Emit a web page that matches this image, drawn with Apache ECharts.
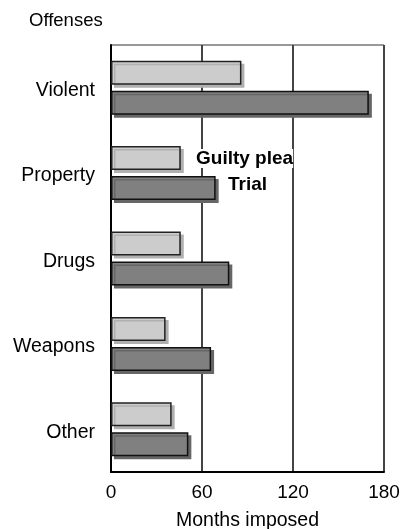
<!DOCTYPE html>
<html>
<head>
<meta charset="utf-8">
<script src="https://cdn.jsdelivr.net/npm/echarts@6/dist/echarts.min.js"></script>
<style>
    html, body { margin: 0; padding: 0; background: #fff; }
    #chart { width: 406px; height: 529px; }
</style>
</head>
<body>
<div id="chart"></div>
<script>
const offenses = ["Violent", "Property", "Drugs", "Weapons", "Other"];
const guiltyPlea = [86, 46, 46, 36, 40];
const trial = [170, 69, 78, 66, 51];
const xTicks = [0, 60, 120, 180];

const chart = echarts.init(document.getElementById("chart"));
const font = "Liberation Sans, Arial, sans-serif";

chart.setOption({
    animation: false,
    grid: {
        left: 111, right: 22, top: 45, bottom: 57,
        outerBoundsMode: "none", containLabel: false,
        show: true, borderColor: "#333", borderWidth: 1,
    },
    xAxis: {
        type: "value",
        min: xTicks[0],
        max: xTicks[xTicks.length - 1],
        interval: 60,
        name: "Months imposed",
        nameLocation: "middle",
        nameGap: 39,
        nameTextStyle: { color: "#000", fontSize: 19.5, fontFamily: font },
        axisLine: { show: true, lineStyle: { color: "#000", width: 2 } },
        axisTick: { show: false },
        axisLabel: { color: "#000", fontSize: 19, fontFamily: font, margin: 11 },
        splitLine: { show: true, lineStyle: { color: "#444", width: 2 } },
    },
    yAxis: {
        type: "category",
        data: offenses,
        inverse: true,
        axisLine: { show: true, lineStyle: { color: "#000", width: 2 } },
        axisTick: { show: false },
        axisLabel: {
            color: "#000", fontSize: 19.5, fontFamily: font, margin: 16,
            verticalAlign: "top", lineHeight: 6,
        },
    },
    graphic: [
        { type: "text", left: 29, top: 11,
          style: { text: "Offenses", font: "18.5px " + font, fill: "#000" } },
        { type: "text", left: 196, top: 149, z: 10,
          style: { text: "Guilty plea", font: "bold 19px " + font, fill: "#000", backgroundColor: "#fff" } },
        { type: "text", left: 228, top: 175, z: 10,
          style: { text: "Trial", font: "bold 19px " + font, fill: "#000", backgroundColor: "#fff" } },
    ],
    series: [
        {
            name: "Guilty plea",
            type: "bar",
            data: guiltyPlea,
            barWidth: 24,
            barGap: "25%",
            itemStyle: {
                color: "#cccccc",
                borderColor: "#222",
                borderWidth: 1.5,
                shadowColor: "#b0b0b0",
                shadowOffsetX: 3,
                shadowOffsetY: 3,
                shadowBlur: 0,
            },
        },
        {
            name: "Trial",
            type: "bar",
            data: trial,
            barWidth: 24,
            barGap: "25%",
            itemStyle: {
                color: "#808080",
                borderColor: "#111",
                borderWidth: 1.5,
                shadowColor: "#666",
                shadowOffsetX: 3,
                shadowOffsetY: 3,
                shadowBlur: 0,
            },
        },
    ],
});
</script>
</body>
</html>
